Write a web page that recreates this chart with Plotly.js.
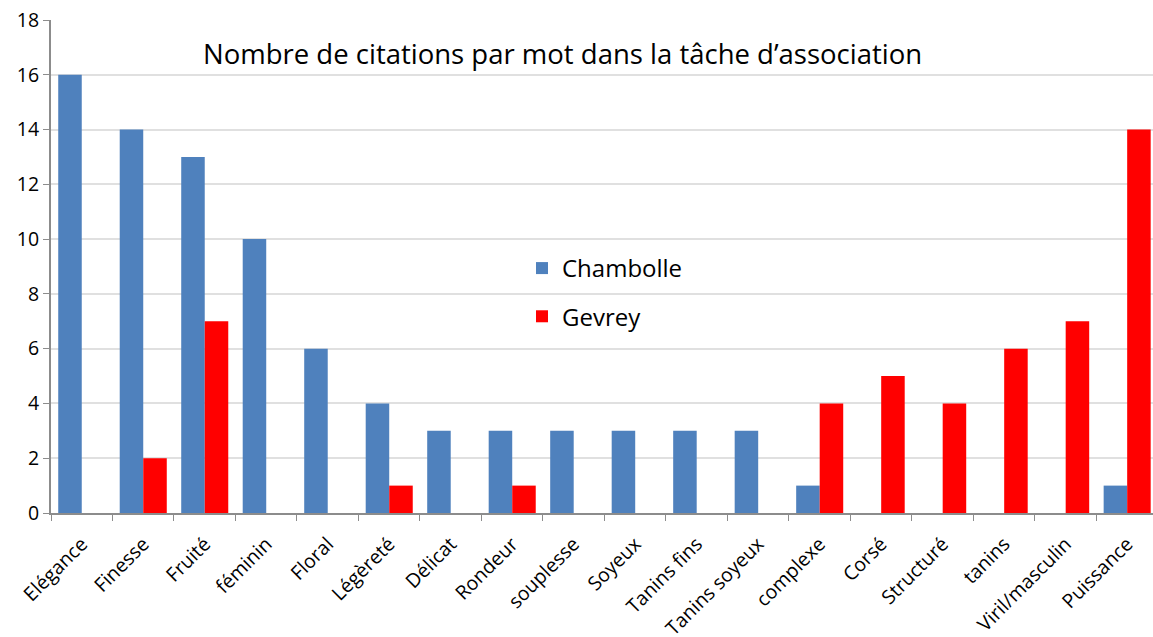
<!DOCTYPE html>
<html>
<head>
<meta charset="utf-8">
<script src="https://cdn.plot.ly/plotly-3.0.1.min.js"></script>
<style>html,body{margin:0;padding:0;background:#fff;overflow:hidden}#chart{width:1153px;height:637px}</style>
</head>
<body>
<div id="chart"></div>
<script>
const categories = ["Elégance","Finesse","Fruité","féminin","Floral","Légèreté","Délicat","Rondeur","souplesse","Soyeux","Tanins fins","Tanins soyeux","complexe","Corsé","Structuré","tanins","Viril/masculin","Puissance"];
const chambolle = [16,14,13,10,6,4,3,3,3,3,3,3,1,0,0,0,0,1];
const gevrey = [0,2,7,0,0,1,0,1,0,0,0,0,4,5,4,6,7,14];
const yTicks = [0,2,4,6,8,10,12,14,16,18];
const titleText = "Nombre de citations par mot dans la tâche d’association";

const FONT = "Open Sans, sans-serif";
const traces = [
  {type:"bar", name:"Chambolle", x:categories, y:chambolle, legendgroup:"a",
   marker:{color:"#4F81BD", line:{width:0}}},
  {type:"bar", name:"Gevrey", x:categories, y:gevrey, legendgroup:"b",
   marker:{color:"#FF0000", line:{width:0}}}
];
const layout = {
  width:1153, height:637,
  margin:{l:51, r:0, t:20, b:124},
  paper_bgcolor:"#fff", plot_bgcolor:"#fff",
  barmode:"group", bargap:0.235, bargroupgap:0,
  font:{family:FONT, color:"#000"},
  title:{text:""},
  annotations:[{text:titleText, xref:"paper", yref:"paper", x:0.464, y:0.932,
    xanchor:"center", yanchor:"middle", showarrow:false, font:{family:FONT, size:27.5, color:"#000"}}],
  xaxis:{type:"category", range:[-0.5,17.42], tickangle:-45, tickson:"boundaries",
    ticks:"outside", ticklen:6, tickcolor:"#8c8c8c", showline:true, linecolor:"#8c8c8c", linewidth:2,
    ticklabelstandoff:10,
    showgrid:false, tickfont:{family:FONT, size:19.5, color:"#000"}, fixedrange:true},
  yaxis:{range:[0,18], tickvals:yTicks, ticks:"outside", ticklen:6, tickcolor:"#8c8c8c",
    showline:true, linecolor:"#8c8c8c", linewidth:2, showgrid:true, gridcolor:"#e0e0e0", gridwidth:2,
    zeroline:false, tickfont:{family:FONT, size:19.5, color:"#000"}, fixedrange:true},
  showlegend:true,
  legend:{x:0.4274, y:0.4473, xanchor:"left", yanchor:"middle", traceorder:"grouped", tracegroupgap:14,
    font:{family:FONT, size:24, color:"#000"}, bgcolor:"rgba(0,0,0,0)"}
};
Plotly.newPlot("chart", traces, layout, {displayModeBar:false, staticPlot:true});
</script>
</body>
</html>
